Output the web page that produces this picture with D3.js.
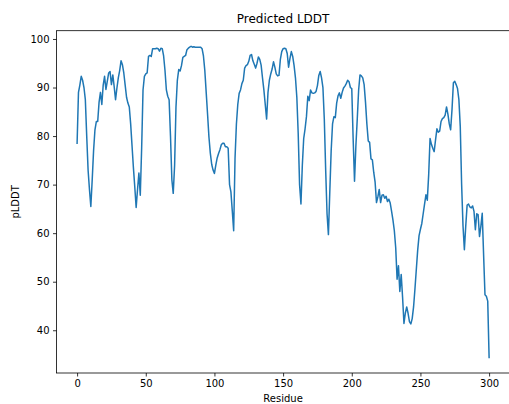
<!DOCTYPE html>
<html>
<head>
<meta charset="utf-8">
<script src="https://cdn.jsdelivr.net/npm/d3@7"></script>
<style>
  html, body { margin: 0; padding: 0; background: #fff; }
  svg { display: block; font-family: "DejaVu Sans", sans-serif; }
</style>
</head>
<body>
<svg id="chart" width="509" height="404"></svg>
<script>
// Per-residue predicted LDDT scores (residue index = array position)
const plddt = [
  78.5, 89.0, 90.5, 92.3, 91.5, 90.0, 87.5, 80.0, 73.0, 69.0,
  65.5, 71.0, 77.0, 81.3, 83.0, 83.0, 87.0, 89.0, 86.5, 90.5,
  92.3, 89.6, 91.3, 93.0, 93.3, 90.6, 92.6, 90.2, 87.5, 89.9,
  92.0, 93.5, 95.5, 94.7, 93.0, 90.5, 88.0, 86.8, 86.0, 82.5,
  78.0, 73.5, 69.5, 65.3, 69.0, 72.4, 67.8, 77.5, 89.5, 92.3,
  92.8, 93.0, 96.4, 96.6, 96.4, 98.0, 98.0, 98.0, 98.1, 98.0,
  97.5, 98.1, 98.0, 96.5, 93.5, 89.5, 88.2, 87.5, 80.0, 71.0,
  68.2, 74.0, 86.0, 91.5, 93.7, 93.4, 94.5, 96.2, 96.4, 96.6,
  97.8, 98.1, 98.3, 98.5, 98.3, 98.4, 98.3, 98.3, 98.3, 98.3,
  98.3, 98.0, 96.5, 93.5, 89.0, 84.5, 79.8, 76.5, 74.2, 73.0,
  72.3, 74.0, 75.5, 76.4, 77.2, 78.2, 78.5, 78.5, 77.8, 77.8,
  77.5, 70.0, 68.5, 64.6, 60.5, 75.5, 82.5, 86.5, 88.8, 89.5,
  90.8, 91.5, 94.0, 94.5, 94.7, 95.4, 96.6, 96.8, 95.5, 94.8,
  94.0, 95.0, 96.3, 95.8, 94.6, 92.0, 89.5, 86.5, 83.5, 89.0,
  91.5, 92.8, 93.8, 95.3, 94.2, 92.8, 92.4, 92.5, 95.8, 97.4,
  98.0, 98.1, 98.0, 97.0, 94.2, 96.0, 97.4, 96.4, 94.5, 92.0,
  88.0, 80.5, 70.0, 66.0, 74.0, 79.5, 81.5, 84.0, 88.2, 87.3,
  89.5, 88.9, 88.8, 88.9, 89.2, 90.4, 92.5, 93.3, 92.0, 90.0,
  83.5, 73.0, 64.0, 59.7, 68.5, 77.0, 82.5, 84.0, 83.8, 86.8,
  88.3, 88.9, 87.8, 89.0, 89.9, 90.3, 90.8, 91.5, 91.2, 90.0,
  89.8, 79.5, 70.7, 78.0, 83.5, 89.5, 92.6, 92.4, 92.0, 90.6,
  87.0, 82.5, 79.0, 78.7, 75.3, 75.1, 72.5, 70.5, 66.3, 67.5,
  69.0, 66.3, 67.8, 67.9, 67.2, 67.6, 66.5, 67.0, 66.2, 64.5,
  62.7, 60.5, 57.0, 50.5, 53.3, 48.0, 51.5, 46.8, 41.4, 43.5,
  44.8, 43.5, 41.8, 41.3, 42.4, 44.8, 48.5, 52.5, 56.5, 59.5,
  60.8, 62.0, 64.0, 66.0, 67.9, 66.8, 72.0, 79.5, 78.3, 77.5,
  76.8, 79.2, 81.5, 80.8, 81.0, 83.0, 83.6, 83.8, 84.3, 86.0,
  84.5, 82.5, 81.3, 85.5, 91.0, 91.3, 90.6, 89.8, 87.5, 82.0,
  70.0, 61.5, 56.6, 61.5, 65.8, 66.0, 65.4, 65.2, 65.6, 64.5,
  60.7, 64.0, 63.8, 59.3, 61.4, 64.1, 55.5, 47.3, 47.0, 46.0,
  34.4
];
const residues = plddt.map((_, i) => i);

const xTicks = [0, 50, 100, 150, 200, 250, 300];
const yTicks = [40, 50, 60, 70, 80, 90, 100];

const titleText = "Predicted LDDT";
const xLabel = "Residue";
const yLabel = "pLDDT";

// Plot area
const plotLeft = 56.5, plotRight = 509.7, plotTop = 30.7, plotBottom = 373;

const n = plddt.length - 1;
const xPad = n * 0.05;
const x = d3.scaleLinear().domain([-xPad, n + xPad]).range([plotLeft, plotRight]);
const yMin = d3.min(plddt), yMax = d3.max(plddt);
const yPad = (yMax - yMin) * 0.05;
const y = d3.scaleLinear().domain([yMin - yPad, yMax + yPad]).range([plotBottom, plotTop]);

const svg = d3.select("#chart");
svg.append("rect").attr("width", 509).attr("height", 404).attr("fill", "#fff");

// Data line
const line = d3.line().x((d, i) => x(residues[i])).y(d => y(d));
svg.append("path")
  .datum(plddt)
  .attr("d", line)
  .attr("fill", "none")
  .attr("stroke", "#1f77b4")
  .attr("stroke-width", 1.5)
  .attr("stroke-linejoin", "round")
  .attr("stroke-linecap", "square");

// Axes
const xAxis = d3.axisBottom(x).tickValues(xTicks).tickSize(3.5).tickPadding(3.5).tickSizeOuter(0);
const yAxis = d3.axisLeft(y).tickValues(yTicks).tickSize(3.5).tickPadding(3.5).tickSizeOuter(0);

const gx = svg.append("g").attr("transform", `translate(0,${plotBottom})`).call(xAxis);
const gy = svg.append("g").attr("transform", `translate(${plotLeft},0)`).call(yAxis);
[gx, gy].forEach(g => {
  g.select(".domain").remove();
  g.selectAll(".tick line").attr("stroke", "#000").attr("stroke-width", 0.8);
  g.selectAll(".tick text").attr("fill", "#000").attr("font-size", 10)
    .attr("font-family", "DejaVu Sans, sans-serif");
});

// Frame (spines)
svg.append("rect")
  .attr("x", plotLeft).attr("y", plotTop)
  .attr("width", plotRight - plotLeft).attr("height", plotBottom - plotTop)
  .attr("fill", "none").attr("stroke", "#000").attr("stroke-width", 0.8);

// Title and axis labels
svg.append("text")
  .attr("x", (plotLeft + plotRight) / 2).attr("y", plotTop - 8)
  .attr("text-anchor", "middle").attr("font-size", 12).attr("fill", "#000")
  .text(titleText);

svg.append("text")
  .attr("x", (plotLeft + plotRight) / 2).attr("y", 402)
  .attr("text-anchor", "middle").attr("font-size", 10).attr("fill", "#000")
  .text(xLabel);

svg.append("text")
  .attr("transform", `translate(19,${(plotTop + plotBottom) / 2}) rotate(-90)`)
  .attr("text-anchor", "middle").attr("font-size", 10).attr("fill", "#000")
  .text(yLabel);
</script>
</body>
</html>
